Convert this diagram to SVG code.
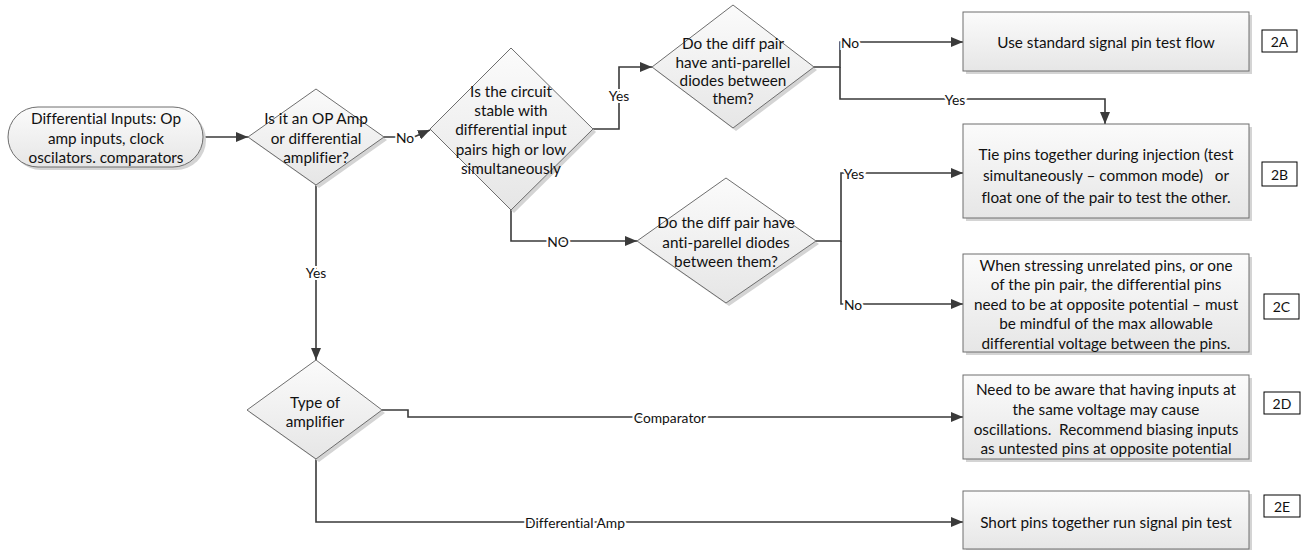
<svg xmlns="http://www.w3.org/2000/svg" width="1309" height="550" viewBox="0 0 1309 550">
<defs>
<linearGradient id="g" x1="0" y1="0" x2="0" y2="1">
<stop offset="0" stop-color="#fbfbfb"/>
<stop offset="1" stop-color="#e6e6e6"/>
</linearGradient>
<marker id="ah" markerWidth="13" markerHeight="10" refX="12" refY="5" orient="auto" markerUnits="userSpaceOnUse">
<path d="M0,0 L12,5 L0,10 Z" fill="#3a3a3a"/>
</marker>
</defs>
<style>
.sh{fill:#d4d4d4;stroke:none}
.nd{fill:url(#g);stroke:#6e6e6e;stroke-width:1}
.lb{fill:#fff;stroke:#000;stroke-width:1}
.t{font-family:Lato,"Liberation Sans",sans-serif;font-size:15.3px;fill:#111;text-anchor:middle;dominant-baseline:central;font-variant-ligatures:none}
.c{fill:none;stroke:#3a3a3a;stroke-width:1.6;marker-end:url(#ah)}
.cl{font-family:Lato,"Liberation Sans",sans-serif;font-size:13.8px;fill:#111;text-anchor:middle;dominant-baseline:central;stroke:#fff;stroke-width:4;paint-order:stroke;font-variant-ligatures:none}
</style>

<g id="connectors">
<path class="c" d="M204,137 H248"/>
<path class="c" d="M384,137 H414 L430,130"/>
<path class="c" d="M316,185 V360"/>
<path class="c" d="M593,129 H619 V67 H652"/>
<path class="c" d="M511,210 V241 H637"/>
<path class="c" d="M814,67 H840 V42 H963"/>
<path class="c" d="M840,67 V99 H1105 V124"/>
<path class="c" d="M816,241 H841 V173 H963"/>
<path class="c" d="M841,241 V304 H963"/>
<path class="c" d="M382,410 H408 V417 H963"/>
<path class="c" d="M316,459 V522 H963"/>
<text class="cl" x="405" y="137">No</text>
<text class="cl" x="316" y="272">Yes</text>
<text class="cl" x="619" y="95">Yes</text>
<text class="cl" x="558" y="241">NO</text>
<text class="cl" x="850" y="42">No</text>
<text class="cl" x="955" y="99">Yes</text>
<text class="cl" x="854" y="173">Yes</text>
<text class="cl" x="853" y="304">No</text>
<text class="cl" x="670" y="417">Comparator</text>
<text class="cl" x="575" y="522">Differential Amp</text>
</g>

<g id="start">
<rect class="sh" x="11" y="110" width="195" height="60" rx="30"/>
<rect class="nd" x="8" y="107" width="195" height="60" rx="30"/>
<text class="t" x="106" y="118">Differential Inputs: Op</text>
<text class="t" x="106" y="138">amp inputs, clock</text>
<text class="t" x="106" y="157">oscilators. comparators</text>
</g>

<g id="d1">
<polygon class="sh" points="319,92 387,140 319,188 251,140"/>
<polygon class="nd" points="316,89 384,137 316,185 248,137"/>
<text class="t" x="316" y="118">Is it an OP Amp</text>
<text class="t" x="316" y="138">or differential</text>
<text class="t" x="316" y="157">amplifier?</text>
</g>

<g id="d2">
<polygon class="sh" points="514,51 596,132 514,213 433,132"/>
<polygon class="nd" points="511,48 593,129 511,210 430,129"/>
<text class="t" x="511" y="91">Is the circuit</text>
<text class="t" x="511" y="110">stable with</text>
<text class="t" x="511" y="129">differential input</text>
<text class="t" x="511" y="149">pairs high or low</text>
<text class="t" x="511" y="168">simultaneously</text>
</g>

<g id="d3">
<polygon class="sh" points="736,8 817,70 736,131 655,70"/>
<polygon class="nd" points="733,5 814,67 733,128 652,67"/>
<text class="t" x="733" y="43">Do the diff pair</text>
<text class="t" x="733" y="62">have anti-parellel</text>
<text class="t" x="733" y="80">diodes between</text>
<text class="t" x="733" y="98">them?</text>
</g>

<g id="d4">
<polygon class="sh" points="729,181 819,244 729,306 640,244"/>
<polygon class="nd" points="726,178 816,241 726,303 637,241"/>
<text class="t" x="726" y="222">Do the diff pair have</text>
<text class="t" x="726" y="242">anti-parellel diodes</text>
<text class="t" x="726" y="261">between them?</text>
</g>

<g id="d5">
<polygon class="sh" points="319,363 385,413 319,462 250,413"/>
<polygon class="nd" points="316,360 382,410 316,459 247,410"/>
<text class="t" x="315" y="402">Type of</text>
<text class="t" x="315" y="421">amplifier</text>
</g>

<g id="b2A">
<rect class="sh" x="966" y="15" width="286" height="59"/>
<rect class="nd" x="963" y="12" width="286" height="59"/>
<text class="t" x="1106" y="42">Use standard signal pin test flow</text>
</g>

<g id="b2B">
<rect class="sh" x="966" y="127" width="286" height="94"/>
<rect class="nd" x="963" y="124" width="286" height="94"/>
<text class="t" x="1106" y="154">Tie pins together during injection (test</text>
<text class="t" x="1106" y="175" xml:space="preserve">simultaneously – common mode)   or</text>
<text class="t" x="1106" y="197">float one of the pair to test the other.</text>
</g>

<g id="b2C">
<rect class="sh" x="966" y="257" width="286" height="98"/>
<rect class="nd" x="963" y="254" width="286" height="98"/>
<text class="t" x="1106" y="265">When stressing unrelated pins, or one</text>
<text class="t" x="1106" y="284">of the pin pair, the differential pins</text>
<text class="t" x="1106" y="304">need to be at opposite potential – must</text>
<text class="t" x="1106" y="323">be mindful of the max allowable</text>
<text class="t" x="1106" y="343">differential voltage between the pins.</text>
</g>

<g id="b2D">
<rect class="sh" x="966" y="378" width="286" height="84"/>
<rect class="nd" x="963" y="375" width="286" height="84"/>
<text class="t" x="1106" y="389">Need to be aware that having inputs at</text>
<text class="t" x="1106" y="409">the same voltage may cause</text>
<text class="t" x="1106" y="429" xml:space="preserve">oscillations.  Recommend biasing inputs</text>
<text class="t" x="1106" y="448">as untested pins at opposite potential</text>
</g>

<g id="b2E">
<rect class="sh" x="966" y="494" width="286" height="58"/>
<rect class="nd" x="963" y="491" width="286" height="58"/>
<text class="t" x="1106" y="522">Short pins together run signal pin test</text>
</g>

<g id="l2A"><rect class="lb" x="1262" y="30" width="35" height="22"/><text class="t" x="1279.5" y="41" style="font-size:14px">2A</text></g>
<g id="l2B"><rect class="lb" x="1262" y="162" width="35" height="24"/><text class="t" x="1279.5" y="174" style="font-size:14px">2B</text></g>
<g id="l2C"><rect class="lb" x="1264" y="294" width="35" height="25"/><text class="t" x="1281.5" y="306" style="font-size:14px">2C</text></g>
<g id="l2D"><rect class="lb" x="1264" y="392" width="36" height="22"/><text class="t" x="1282" y="403" style="font-size:14px">2D</text></g>
<g id="l2E"><rect class="lb" x="1264" y="495" width="36" height="22"/><text class="t" x="1282" y="506" style="font-size:14px">2E</text></g>
</svg>
